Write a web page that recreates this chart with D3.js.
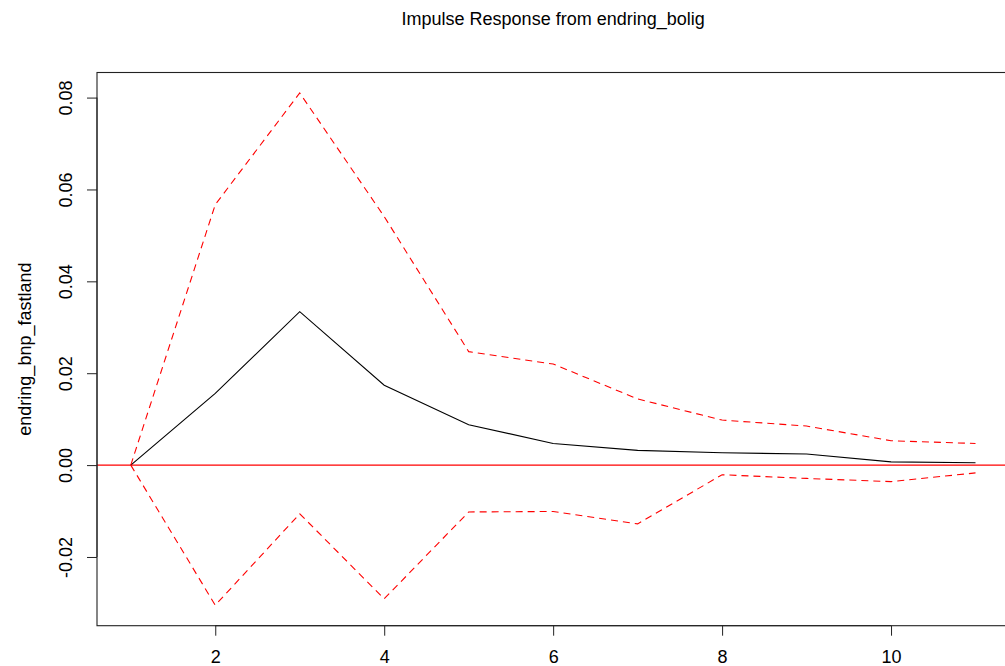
<!DOCTYPE html>
<html>
<head>
<meta charset="utf-8">
<script src="https://cdn.jsdelivr.net/npm/d3@7"></script>
<style>
  body { margin: 0; background: #fff; }
  text { font-family: "Liberation Sans", Arial, Helvetica, sans-serif; fill: #000; }
</style>
</head>
<body>
<svg id="chart" width="1005" height="666"></svg>
<script>
const periods = [1, 2, 3, 4, 5, 6, 7, 8, 9, 10, 11];
const irf   = [0, 0.0156, 0.0334, 0.0174, 0.0088, 0.0047, 0.0032, 0.0027, 0.0024, 0.0007, 0.0005];
const upper = [0, 0.0567, 0.0810, 0.0541, 0.0247, 0.0220, 0.0144, 0.0098, 0.0085, 0.0053, 0.0047];
const lower = [0, -0.0305, -0.0106, -0.0291, -0.0102, -0.0101, -0.0128, -0.0021, -0.0029, -0.0036, -0.0017];
const xTicks = [2, 4, 6, 8, 10];
const yTicks = [-0.02, 0.00, 0.02, 0.04, 0.06, 0.08];
const titleText = "Impulse Response from endring_bolig";
const yLabel = "endring_bnp_fastland";

const svg = d3.select("#chart");
const pLeft = 97, pRight = 1009.3, pTop = 72.5, pBottom = 625.7;
const FS = 18;

// R-style 4% axis extension
const xMin = d3.min(periods), xMax = d3.max(periods);
const xPad = (xMax - xMin) * 0.04;
const allY = irf.concat(upper, lower);
const yMin = d3.min(allY), yMax = d3.max(allY);
const yPad = (yMax - yMin) * 0.04;

const x = d3.scaleLinear().domain([xMin - xPad, xMax + xPad]).range([pLeft, pRight]);
const y = d3.scaleLinear().domain([yMin - yPad, yMax + yPad]).range([pBottom, pTop]);

svg.append("defs").append("clipPath").attr("id", "clip")
  .append("rect").attr("x", pLeft).attr("y", pTop).attr("width", pRight - pLeft).attr("height", pBottom - pTop);

const line = d3.line().x((d, i) => x(periods[i])).y(d => y(d));
const plot = svg.append("g").attr("clip-path", "url(#clip)");

plot.append("line")
  .attr("x1", pLeft).attr("x2", pRight)
  .attr("y1", y(0)).attr("y2", y(0))
  .attr("stroke", "#ff0000").attr("stroke-width", 1.1);

plot.append("path").datum(irf).attr("d", line)
  .attr("fill", "none").attr("stroke", "#000").attr("stroke-width", 1.1);
[upper, lower].forEach(s => {
  plot.append("path").datum(s).attr("d", line)
    .attr("fill", "none").attr("stroke", "#ff0000").attr("stroke-width", 1.1)
    .attr("stroke-dasharray", "7,5");
});

svg.append("rect").attr("x", pLeft).attr("y", pTop)
  .attr("width", pRight - pLeft).attr("height", pBottom - pTop)
  .attr("fill", "none").attr("stroke", "#222").attr("stroke-width", 1.1);

const xAxis = d3.axisBottom(x).tickValues(xTicks).tickSize(10).tickPadding(14.5).tickFormat(d3.format("d"));
const gx = svg.append("g").attr("transform", `translate(0,${pBottom})`).call(xAxis);
gx.select(".domain").attr("d", `M${x(xTicks[0])},0H${x(xTicks[xTicks.length-1])}`).attr("stroke", "#222");
gx.selectAll(".tick line").attr("stroke", "#222");
gx.selectAll(".tick text").attr("font-size", FS).attr("font-family", "Liberation Sans, Arial, sans-serif").attr("fill", "#000");

const fmtY = v => d3.format(".2f")(v).replace("\u2212", "-");
const yAxis = d3.axisLeft(y).tickValues(yTicks).tickSize(10).tickFormat(fmtY);
const gy = svg.append("g").attr("transform", `translate(${pLeft},0)`).call(yAxis);
gy.select(".domain").attr("d", `M0,${y(yTicks[0])}V${y(yTicks[yTicks.length-1])}`).attr("stroke", "#222");
gy.selectAll(".tick line").attr("stroke", "#222");
gy.selectAll(".tick text")
  .attr("font-size", FS).attr("font-family", "Liberation Sans, Arial, sans-serif").attr("fill", "#000")
  .attr("x", null).attr("dy", null)
  .attr("text-anchor", "middle")
  .attr("transform", "translate(-25,0) rotate(-90)");

svg.append("text").attr("x", (pLeft + pRight) / 2).attr("y", 25)
  .attr("text-anchor", "middle").attr("font-size", FS).text(titleText);

svg.append("text")
  .attr("transform", `translate(31,${(pTop + pBottom) / 2}) rotate(-90)`)
  .attr("text-anchor", "middle").attr("font-size", FS).text(yLabel);
</script>
</body>
</html>
